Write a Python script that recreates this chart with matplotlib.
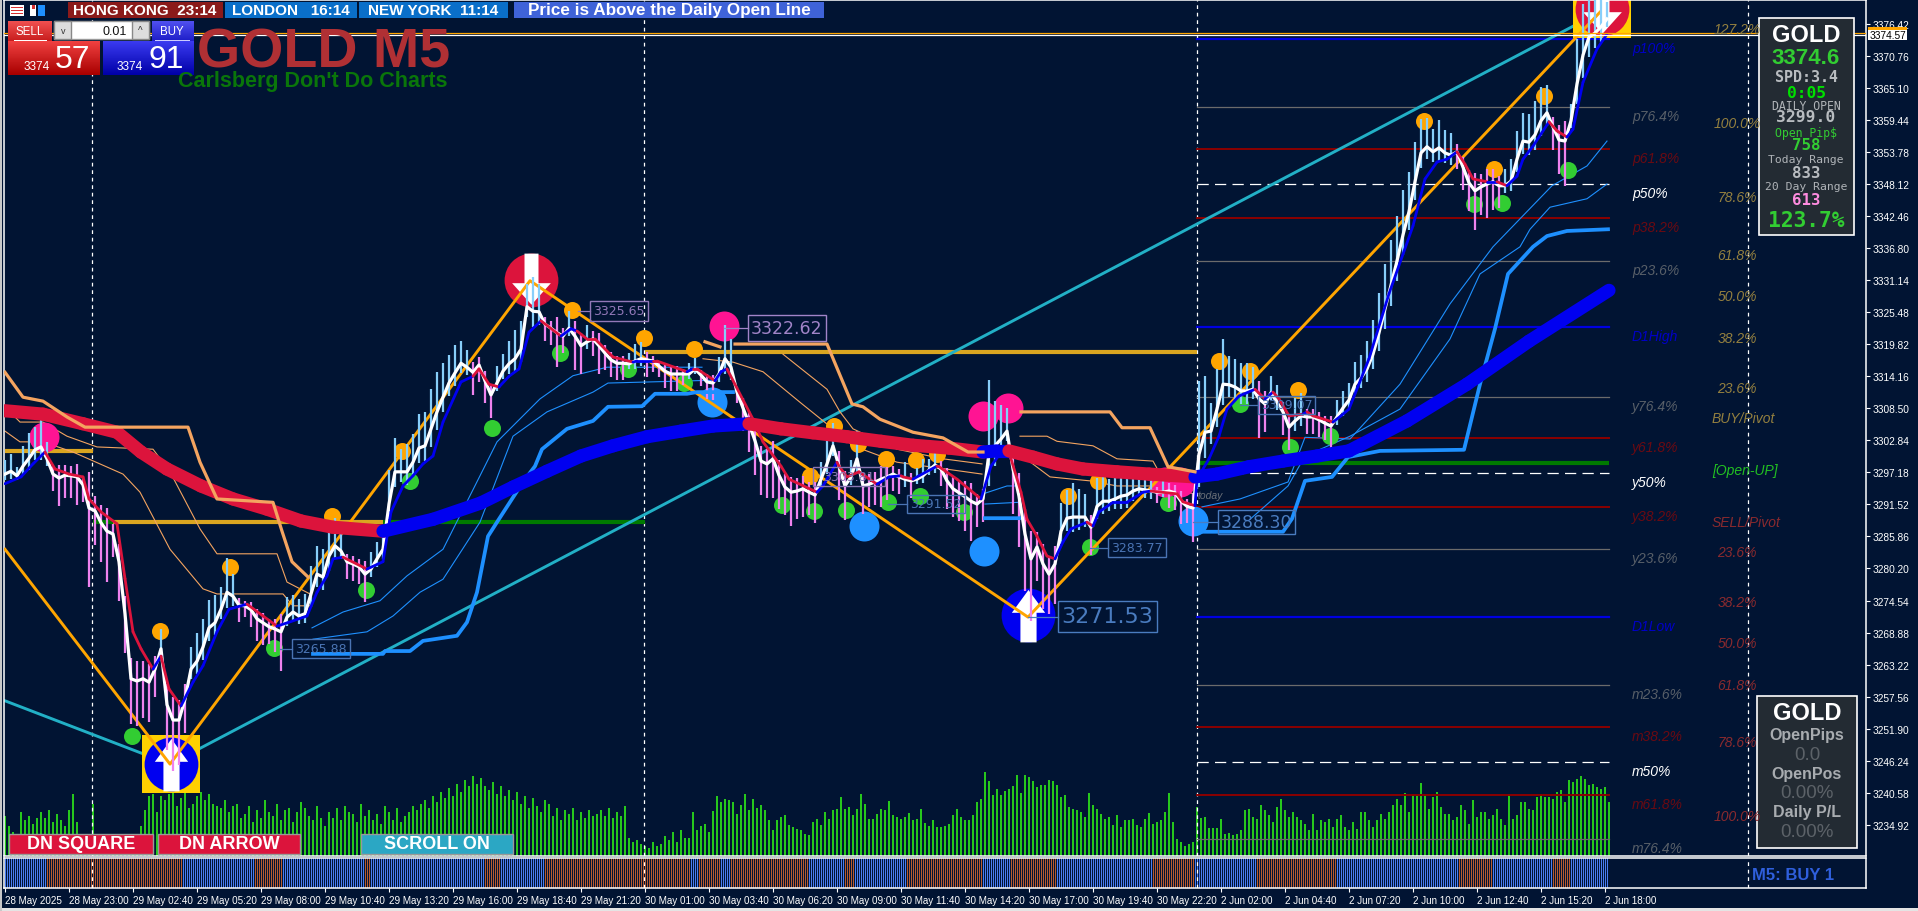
"""GOLD M5 - MT4 chart with the indicators and the side panels."""
import numpy as np
import matplotlib
matplotlib.use("Agg")
import matplotlib.pyplot as plt
from matplotlib.colors import LinearSegmentedColormap
from matplotlib.patches import Rectangle
from matplotlib.path import Path

NA = float("nan")
BG = "#011433"
W, H = 1918, 912

# ---- axis labels
price_ticks = [3376.42, 3370.76, 3365.10, 3359.44, 3353.78, 3348.12, 3342.46, 3336.80, 3331.14,
               3325.48, 3319.82, 3314.16, 3308.50, 3302.84, 3297.18, 3291.52, 3285.86, 3280.20,
               3274.54, 3268.88, 3263.22, 3257.56, 3251.90, 3246.24, 3240.58, 3234.92]
time_labels = ["28 May 2025", "28 May 23:00", "29 May 02:40", "29 May 05:20", "29 May 08:00",
               "29 May 10:40", "29 May 13:20", "29 May 16:00", "29 May 18:40", "29 May 21:20",
               "30 May 01:00", "30 May 03:40", "30 May 06:20", "30 May 09:00", "30 May 11:40",
               "30 May 14:20", "30 May 17:00", "30 May 19:40", "30 May 22:20", "2 Jun 02:00",
               "2 Jun 04:40", "2 Jun 07:20", "2 Jun 10:00", "2 Jun 12:40", "2 Jun 15:20", "2 Jun 18:00"]
day_breaks = [43.5, 319.5, 596, 871.5]

# ---- price, one value every 3 bars; wick > 0 goes up (blue), < 0 goes down (pink)
close = [3296.9, 3297.4, 3296.6, 3298.3, 3299.7, 3301.2, 3301.7, 3299.6, 3296.9, 3296.2,
         3296.7, 3296.6, 3296.4, 3295.0, 3290.9, 3290.4, 3288.3, 3286.8, 3286.3, 3281.4,
         3272.2, 3260.7, 3260.3, 3260.7, 3260.1, 3262.4, 3266.0, 3256.1, 3253.4, 3253.4,
         3257.1, 3262.4, 3263.8, 3266.3, 3269.7, 3270.6, 3273.0, 3276.0, 3275.3, 3273.7,
         3273.6, 3272.9, 3271.3, 3270.6, 3269.9, 3269.5, 3269.0, 3271.6, 3272.5, 3271.8,
         3272.2, 3275.7, 3279.2, 3278.7, 3282.4, 3284.2, 3283.3, 3281.4, 3281.0, 3280.5,
         3279.2, 3280.1, 3281.9, 3283.6, 3291.6, 3297.3, 3297.3, 3297.3, 3299.0, 3301.5,
         3301.9, 3304.9, 3307.9, 3310.5, 3313.0, 3314.8, 3316.5, 3315.8, 3314.9, 3316.2,
         3313.4, 3310.9, 3313.0, 3315.1, 3316.4, 3317.3, 3319.0, 3326.5, 3325.7, 3325.6,
         3323.4, 3322.7, 3321.9, 3321.3, 3322.7, 3321.3, 3319.6, 3320.3, 3320.8, 3319.6,
         3318.3, 3317.1, 3316.5, 3316.5, 3316.4, 3316.9, 3317.3, 3317.1, 3316.9, 3316.0,
         3315.1, 3314.6, 3314.6, 3314.6, 3314.6, 3315.5, 3314.4, 3313.2, 3313.0, 3314.6,
         3317.3, 3315.8, 3311.4, 3308.6, 3305.8, 3302.8, 3299.2, 3298.7, 3299.6, 3296.7,
         3294.6, 3293.7, 3293.9, 3294.3, 3293.7, 3293.2, 3296.0, 3298.7, 3301.9, 3298.3,
         3294.8, 3296.4, 3299.6, 3294.8, 3295.1, 3295.5, 3296.0, 3296.4, 3296.9, 3296.4,
         3296.0, 3295.7, 3296.0, 3296.6, 3297.6, 3298.5, 3297.8, 3295.7, 3294.3, 3293.6,
         3292.9, 3292.1, 3291.6, 3292.5, 3300.6, 3301.9, 3303.1, 3304.5, 3297.8, 3293.0,
         3286.3, 3281.9, 3284.0, 3281.0, 3279.2, 3281.0, 3286.8, 3289.1, 3289.3, 3289.3,
         3289.3, 3287.5, 3291.2, 3292.1, 3292.1, 3292.5, 3293.0, 3293.2, 3293.9, 3294.3,
         3294.1, 3293.9, 3293.7, 3293.7, 3293.9, 3293.6, 3292.1, 3291.2, 3290.9, 3300.4,
         3304.3, 3304.5, 3308.4, 3312.8, 3312.7, 3312.3, 3311.6, 3311.6, 3311.9, 3310.2,
         3309.3, 3311.3, 3309.6, 3307.9, 3305.2, 3306.3, 3307.2, 3307.0, 3307.0, 3306.5,
         3305.9, 3305.4, 3307.0, 3308.6, 3310.0, 3312.8, 3313.9, 3315.5, 3318.1, 3321.9,
         3326.1, 3330.3, 3334.6, 3339.2, 3343.3, 3348.6, 3353.7, 3354.8, 3353.9, 3354.6,
         3353.7, 3353.3, 3353.9, 3351.2, 3348.4, 3347.0, 3347.7, 3348.2, 3348.6, 3347.9,
         3347.9, 3348.7, 3352.6, 3355.8, 3355.6, 3356.9, 3359.4, 3360.8, 3358.3, 3356.0,
         3355.8, 3359.4, 3365.9, 3371.0, 3374.2, 3374.9, 3376.0, 3377.4]
wick = [2.5, 3, 1.5, 3.5, 4.5, 4, 5, 3, -3, -5,
        -4, -4, -5, -3, -14, -6, -7, -9, -4, -7,
        -7, -8, -8, -7, -7, -5, 3.5, -8, -9, -8,
        -6, 4, 5, 5, 5, 5, 4, 6, 4, -3,
        -2, -3, -4, -4, -3, -4, -7, 3.5, 3, 3,
        3.5, 5, 5, 5, 6, 5, 3, -3, -3, -3,
        -5, 3, 3, 4, 6, 6, 4, 5, 5, 6,
        6, 7, 7, 6, 5, 5, 4, 3, -4, -3,
        -4, -4, 3, 3, 4, 5, 5, 4, 6, 5,
        -3, -3, -6, -3, 3, -6, -5, 3, -3, -5,
        -3, -3, -3, -3, 2, 3, 3, -3, -2, -2,
        -3, -3, -3, -2, 2, 2, -2, -3, -3, 3,
        6, 5, -2, -4, -5, -6, -6, -6, -7, -6,
        -5, -6, -5, -5, -4, -5, 3, 4, 4, -6,
        -6, 3, 5, -5, -4, -4, -5, -4, -3, -3,
        3, -3, 2, 3, 2, 3, -3, -5, -5, -5,
        -6, -7, -4, -4, 13, 8, 6, 4, -8, -9,
        -10, -11, -6, -8, -7, -7, 5, 5, 6, 5,
        4, -5, 5, 5, 4, 4, 5, 5, 4, 3,
        3, 3, -2, 2, -3, -3, -4, -3, -6, 13,
        10, 5, 7, 8, 5, 5, 5, 5, 4, -7,
        -5, 3, 3, -4, -4, 4, 4, -3, -3, -3,
        -3, -4, 3, 3, 3, 4, 4, 5, 6, 7,
        8, 8, 8, 8, 7, 7, 6, 5, 4, 5,
        4, 4, -3, -4, -5, -7, -5, -6, -5, -4,
        3, 4, 5, 5, 5, 6, 6, 5, -4, -6,
        -8, 3, 8, 9, 8, 6, 6, 3]

# ---- fast average, colour flips at the bars in fast_flips (starts blue)
fast_bars = [0, 8, 14, 20, 25, 32, 39, 42, 48, 56, 60, 64, 68, 74, 78, 82, 88, 94, 99, 106, 112, 121, 129,
             136, 142, 151, 156, 161, 164, 169, 181, 189, 193, 199, 204, 209, 214, 219, 228, 234, 237,
             242, 247, 252, 257, 262, 268, 278, 283, 286, 291, 295, 304, 314, 316, 324, 326, 341, 344,
             346, 355, 358, 361, 374, 379, 388, 392, 406, 409, 416, 417, 421, 427, 436, 442, 448, 449,
             454, 457, 466, 467, 476, 488, 493, 500, 502, 508, 511, 516, 521, 525, 529, 533, 541, 544,
             547, 554, 561, 569, 573, 586, 589, 595, 596, 602, 607, 611, 617, 625, 630, 634, 637, 642,
             649, 651, 654, 664, 668, 672, 682, 692, 704, 710, 716, 721, 726, 730, 734, 741, 746, 751,
             756, 759, 764, 772, 776, 781, 784, 789, 796, 801]
fast_vals = [3295.2, 3296.4, 3298.7, 3300.8, 3297.8, 3296.9, 3296.4, 3292.5, 3290.2, 3288.1, 3278.4, 3269.0,
             3266.0, 3262.4, 3264.7, 3258.9, 3255.9, 3260.1, 3263.0, 3269.0, 3273.0, 3273.9, 3271.8,
             3270.0, 3270.7, 3271.8, 3276.0, 3278.9, 3281.9, 3282.2, 3280.1, 3281.4, 3290.2, 3294.8,
             3296.6, 3298.7, 3300.1, 3306.1, 3313.2, 3314.2, 3315.5, 3312.8, 3312.3, 3314.2, 3315.5,
             3322.0, 3324.0, 3321.3, 3322.6, 3322.2, 3320.8, 3320.8, 3317.6, 3316.7, 3316.9, 3316.9,
             3316.9, 3315.0, 3315.5, 3315.5, 3313.4, 3315.0, 3315.5, 3306.6, 3302.6, 3298.3, 3296.0,
             3293.7, 3294.8, 3299.0, 3298.3, 3296.4, 3297.3, 3295.1, 3296.4, 3296.6, 3296.4, 3296.0,
             3296.6, 3298.3, 3298.2, 3296.0, 3292.5, 3298.3, 3301.7, 3300.8, 3293.7, 3288.9, 3285.9,
             3282.4, 3281.9, 3284.9, 3287.2, 3288.4, 3287.7, 3290.2, 3291.9, 3291.9, 3293.7, 3293.9,
             3293.4, 3292.0, 3291.3, 3296.0, 3299.6, 3303.6, 3308.4, 3310.7, 3311.9, 3310.2, 3311.4,
             3310.2, 3307.2, 3307.5, 3307.9, 3307.2, 3306.1, 3307.2, 3308.4, 3317.3, 3328.8, 3340.8,
             3349.1, 3352.1, 3352.6, 3353.9, 3351.7, 3349.1, 3348.6, 3348.6, 3347.9, 3349.6, 3352.6,
             3354.9, 3359.2, 3357.6, 3356.5, 3357.9, 3366.2, 3372.1, 3374.7]
fast_flips = [20, 74, 78, 88, 121, 136, 169, 181, 234, 247, 268, 278, 286, 314, 324, 341, 344, 355, 361,
              406, 416, 436, 448, 454, 466, 488, 500, 525, 541, 544, 573, 595, 625, 630, 634, 649, 651,
              664, 726, 741, 746, 751, 772, 781]

# ---- slow average, starts red
slow_bars = [0, 19, 39, 56, 68, 81, 98, 114, 131, 148, 164, 189, 214, 238, 254, 271, 288, 304, 321, 338,
             354, 372, 388, 404, 421, 438, 454, 472, 489, 496, 502, 514, 526, 539, 556, 572, 595, 606,
             622, 639, 656, 672, 701, 731, 762, 802]
slow_vals = [3308.1, 3307.5, 3305.8, 3304.3, 3300.8, 3297.8, 3294.8, 3292.5, 3290.7, 3288.6, 3287.5, 3286.8,
             3288.9, 3291.8, 3294.6, 3297.4, 3300.1, 3301.9, 3303.5, 3304.5, 3305.4, 3305.8, 3304.9,
             3304.2, 3303.5, 3302.7, 3302.0, 3301.5, 3300.8, 3301.0, 3301.0, 3299.9, 3298.7, 3297.8,
             3297.3, 3296.9, 3296.4, 3296.9, 3298.2, 3299.2, 3300.1, 3301.0, 3306.3, 3312.8, 3320.4, 3329.4]
slow_flips = [189, 372, 489, 502, 595]

# ---- trailing lines, NA breaks the line
peach_bars = [0, 9, 19, 31, 40, 91.5, 97.5, 106, 134, 138.5, 143.5, 151.5, NA, 350, 357.5, NA, 365, 411, 423.5,
              429, 437.5, 454, 469, 481.5, 489, NA, 508, 552.5, 558.5, 572.5, 581.5, 595]
peach_vals = [3314.9, 3310.5, 3309.8, 3307.0, 3305.2, 3305.2, 3299.0, 3292.5, 3291.9, 3286.8, 3281.4, 3278.7, NA,
              3320.3, 3319.4, NA, 3319.9, 3319.9, 3309.3, 3308.8, 3306.6, 3304.3, 3303.3, 3300.8, 3300.8, NA,
              3307.9, 3307.9, 3305.1, 3305.1, 3298.2, 3297.3]
band_a_bars = [0, 7.5, 19, 31, 46, 74, 82.5, 97.5, 106, 136, 141, 152.5, NA, 389, 411, 417.5, 424, 446, 469, 488.5,
               NA, 507.5, 521, 526, 544, 556, 574, 579, 595]
band_a_vals = [3308.8, 3306.1, 3306.1, 3303.6, 3301.7, 3301.3, 3297.3, 3287.2, 3282.8, 3282.8, 3277.8, 3275.7, NA,
               3318.1, 3311.9, 3307.9, 3304.9, 3301.3, 3299.6, 3298.7, NA, 3303.6, 3303.6, 3302.7, 3301.9,
               3299.6, 3299.2, 3296.0, 3295.1]
band_b_bars = [0, 7.5, 19, 34, 59, 67.5, 82.5, 99, 106, 139, 144, 152.5, NA, 349, 364, 379, 397.5, 414, 424, 446,
               488.5, NA, 507.5, 522.5, 542.5, 556, 574, 595]
band_b_vals = [3304.5, 3302.6, 3302.6, 3300.8, 3296.9, 3293.7, 3283.6, 3276.6, 3275.7, 3275.7, 3273.6, 3273.6, NA,
               3317.3, 3316.7, 3315.0, 3309.6, 3304.9, 3301.9, 3299.0, 3296.9, NA, 3300.4, 3296.4, 3295.7,
               3294.8, 3294.8, 3293.4]
thin_a_bars = [153.5, 169, 187.5, 201, 219, 237.5, 246, 267.5, 284, 301, 348.5, NA, 489, 501, 506.5, NA, 598.5,
               617.5, 641.5, 650, 672.5, 697.5, 722.5, 744, 756, 773.5, 791, 801]
thin_a_vals = [3269.7, 3272.5, 3274.5, 3278.9, 3283.6, 3296.6, 3302.6, 3310.2, 3314.3, 3315.8, 3315.8, NA, 3293.4,
               3294.8, 3294.8, NA, 3291.1, 3292.5, 3295.5, 3303.4, 3303.1, 3312.8, 3327.0, 3337.1, 3341.5,
               3347.9, 3351.4, 3355.8]
thin_b_bars = [154, 181, 194, 207.5, 219, 237.5, 254, 271, 294, 301.5, 354, NA, 490, 506.5, NA, 622.5, 641.5, 650,
               672.5, 697.5, 722.5, 737.5, 757.5, 762.5, 772.5, 791, 801]
thin_b_vals = [3267.7, 3269.0, 3271.8, 3276.0, 3278.3, 3288.4, 3303.6, 3307.9, 3311.4, 3313.0, 3313.5, NA, 3291.6,
               3291.9, NA, 3288.9, 3294.8, 3300.1, 3303.6, 3308.4, 3320.8, 3332.3, 3337.1, 3340.2, 3344.1,
               3345.6, 3348.2]
stop_bars = [154, 189, 190, 202.5, 209, 226, 231, 236, 241.5, 246, 259, 265, 268.5, 281, 294, 301.5, 318.5, 325,
             341, 346, 364, NA, 490, 507, NA, 596, 639, 643.5, 650, 663.5, 671.5, 687.5, 729.5, 737.5, 745,
             751.5, 764, 771, 781, 801.5]
stop_vals = [3265.1, 3265.1, 3265.6, 3265.6, 3267.4, 3268.3, 3270.7, 3276.0, 3285.9, 3288.4, 3295.5, 3298.3,
             3301.3, 3304.9, 3306.3, 3308.8, 3308.9, 3311.1, 3311.1, 3311.4, 3311.4, NA, 3289.1, 3289.1, NA,
             3286.7, 3286.7, 3289.0, 3295.7, 3296.4, 3299.9, 3301.0, 3301.2, 3312.8, 3322.6, 3332.3, 3337.1,
             3339.0, 3339.9, 3340.2]

zigzag_bars = [0, 82.5, 262.5, 511.5, 797.5]
zigzag_vals = [3283.6, 3245.6, 3331.1, 3271.6, 3378.6]
channel_bars = [0, 82.5, 798.5]
channel_vals = [3256.8, 3245.6, 3378.8]

# ---- swing dots
orange_bars = [112.5, 77.5, 163.5, 198.5, 283.5, 319.5, 344.5, 414.5, 426.5, 402.5, 440.5, 455.5, 466, 531.5,
               546.5, 607, 622.5, 646.5, 709.5, 744.5, 769.5]
orange_vals = [3280.5, 3269.2, 3289.5, 3301.0, 3325.9, 3321.0, 3319.0, 3305.4, 3302.2, 3296.6, 3299.6, 3299.4,
               3300.5, 3293.0, 3295.7, 3316.9, 3315.1, 3311.8, 3359.4, 3350.9, 3363.8]
green_bars = [63.5, 134.5, 180.5, 202.5, 243.5, 277.5, 311.5, 339.5, 388.5, 404.5, 420.5, 441.5, 457.5, 479.5,
              542.5, 581.5, 617.5, 642.5, 662.5, 734.5, 748.5, 781.5]
green_vals = [3250.6, 3266.1, 3276.4, 3295.7, 3305.0, 3318.3, 3315.5, 3313.0, 3291.4, 3290.4, 3290.6, 3291.9,
              3293.0, 3290.2, 3284.0, 3291.8, 3309.3, 3301.7, 3303.6, 3344.7, 3344.8, 3350.7]
pink_bars = [19.5, 359.5, 489, 501.5, 580, 587.5]
pink_vals = [3303.5, 3323.1, 3307.2, 3308.6, 3295.5, 3295.5]
blue_bars = [353.5, 429.5, 489.5, 594]
blue_vals = [3309.6, 3287.7, 3283.3, 3288.6]
sell_bars = [263, 798.5]
sell_vals = [3331.2, 3379.2]
buy_bars = [83, 511.5]
buy_vals = [3245.6, 3272.0]
square_bars = [83, 798.5]
square_vals = [3245.6, 3379.2]

# ---- pivot levels from bar 596 onwards
level_names = ["p100%", "p76.4%", "p61.8%", "p50%", "p38.2%", "p23.6%", "D1High", "y76.4%", "y61.8%", "y50%",
               "y38.2%", "y23.6%", "D1Low", "m23.6%", "m38.2%", "m50%", "m61.8%", "m76.4%"]
level_vals = [3373.9, 3361.8, 3354.4, 3348.2, 3342.2, 3334.6, 3322.9, 3310.5, 3303.3, 3297.1, 3291.1, 3283.6,
              3271.6, 3259.6, 3252.2, 3246.0, 3240.1, 3232.4]
level_kinds = ["b", "g", "r", "w", "r", "g", "b", "g", "r", "w", "r", "g", "b", "g", "r", "w", "r", "g"]

day_open_starts = [0, 54, 320, 44, 189, 596]
day_open_ends = [44, 189, 596, 54, 320, 802]
day_open_vals = [3301.0, 3288.4, 3318.5, 3288.4, 3288.4, 3298.9]
day_open_cols = ["#daa520", "#daa520", "#daa520", "#007a00", "#007a00", "#007a00"]
bid, ask = 3374.57, 3374.91

# ---- volume, one value every 2 bars
volume = [40, 30, 24, 22, 44, 36, 40, 32, 38, 44, 38, 46, 34, 42, 36, 30, 46, 62, 34, 10,
          14, 8, 52, 20, 6, 8, 10, 8, 12, 8, 6, 10, 8, 14, 30, 46, 60, 62, 44, 60,
          56, 62, 64, 50, 58, 64, 48, 52, 60, 64, 56, 62, 52, 50, 48, 56, 44, 50, 52, 38,
          42, 50, 34, 46, 38, 56, 44, 40, 52, 36, 46, 48, 34, 44, 54, 48, 40, 36, 50, 38,
          30, 44, 38, 48, 36, 50, 44, 42, 34, 52, 40, 46, 36, 42, 32, 50, 44, 36, 48, 34,
          40, 44, 50, 46, 52, 56, 48, 60, 54, 64, 58, 68, 60, 72, 64, 76, 70, 80, 72, 78,
          70, 66, 74, 62, 70, 60, 66, 56, 64, 52, 60, 48, 58, 50, 44, 56, 52, 40, 48, 36,
          46, 42, 48, 36, 44, 38, 46, 40, 42, 46, 40, 48, 38, 44, 40, 50, 18, 14, 16, 12,
          10, 8, 14, 10, 12, 20, 16, 24, 14,
          26, 18, 18, 44, 26, 30, 32, 24, 45, 60, 54, 57, 56, 54, 42, 51, 62, 46, 57, 48,
          51, 46, 36, 26, 36, 39, 41, 31, 29, 27, 26, 22, 21, 34, 37, 31, 44, 37, 46, 47,
          59, 47, 49, 41, 47, 62, 52, 37, 37, 42, 47, 46, 55, 41, 39, 37, 39, 43, 36, 37,
          47, 33, 30, 36, 29, 29, 30, 32, 41, 47, 39, 36, 36, 41, 54, 57, 84, 75, 61, 67,
          61, 65, 67, 70, 81, 63, 81, 79, 75, 69, 71, 71, 76, 75, 71, 59, 61, 49, 47, 46,
          44, 39, 63, 51, 47, 42, 37, 39, 31, 41, 29, 36, 36, 37, 31, 29, 37, 43, 32, 34,
          36, 44, 63, 34, 17, 14, 10, 12, 14, 49, 38, 39, 28, 28, 28, 37, 22, 23, 21, 22,
          26, 46, 47, 39, 37, 51, 46, 41, 34, 49, 57, 46, 39, 44, 39, 36, 32, 26, 42, 26,
          36, 34, 37, 29, 37, 41, 29, 26, 34, 27, 44, 44, 36, 29, 36, 42, 37, 44, 51, 57,
          51, 63, 44, 61, 61, 73, 61, 47, 59, 64, 49, 42, 42, 36, 39, 51, 46, 32, 56, 39,
          44, 44, 37, 41, 47, 37, 31, 62, 37, 41, 54, 54, 47, 46, 59, 62, 59, 59, 57, 64,
          66, 54, 76, 74, 77, 80, 77, 71, 72, 69, 67, 69, 54]

# ---- M5 signal strip, alternating blue / brown up to these bars
regime_ends = [21, 89, 125, 139, 180, 183, 240, 248, 270, 343, 347, 358, 363, 402, 420, 425, 451, 489, 503, 526,
               574, 595, 626, 666, 727, 744, 774, 783, 802]


def px_axes(x0, y0, x1, y1):
    return fig.add_axes([x0 / W, 1 - y1 / H, (x1 - x0) / W, (y1 - y0) / H])


fig = plt.figure(figsize=(W / 100, H / 100), dpi=100, facecolor=BG)
plt.rcParams["font.family"] = ["Liberation Sans", "DejaVu Sans"]

# volume sits in its own scale below the price panel
axv = px_axes(4, 1, 1866, 857)
axv.set_facecolor(BG)
axv.set_xlim(-0.5, 930.5)
axv.set_ylim(0, 856)
axv.axis("off")
axv.set_zorder(1)
axv.bar(np.arange(len(volume)) * 2, volume, width=1.4, color="#27c71d", align="center")

ax = px_axes(4, 1, 1866, 857)
ax.set_zorder(2)
ax.patch.set_alpha(0)
ax.set_xlim(-0.5, 930.5)
ax.set_ylim(3229.35, 3380.75)
for s in ax.spines.values():
    s.set_color("white")
    s.set_linewidth(1.1)
ax.set_xticks([])
ax.yaxis.tick_right()
ax.set_yticks(price_ticks, [f"{v:.2f}" for v in price_ticks])
ax.tick_params(axis="y", colors="white", length=3, width=0.8, pad=1.5, labelsize=7.3)

for x in day_breaks:
    ax.axvline(x, color="white", lw=0.9, ls=(0, (3, 3)), zorder=1)

# pivot levels
level_style = {"b": ("#0000e0", 1.6, "-", "#0000c8"), "g": ("#6b6b6b", 0.9, "-", "#585f68"),
               "r": ("#8b0000", 1.4, "-", "#6a0a12"), "w": ("white", 0.9, (0, (9, 5)), "white")}
for name, val, kind in zip(level_names, level_vals, level_kinds):
    col, lw, ls, tcol = level_style[kind]
    ax.plot([596, 802], [val, val], color=col, lw=lw, ls=ls, zorder=1.5)
    ax.annotate(name, (813.5, val), xytext=(0, -6.5), textcoords="offset points", color=tcol,
                fontsize=10, style="italic", va="center", ha="left", annotation_clip=False)

for a, b, v, c in zip(day_open_starts, day_open_ends, day_open_vals, day_open_cols):
    ax.plot([a, b], [v, v], color=c, lw=3, solid_capstyle="butt", zorder=1.6)
ax.axhline(ask, color="#ffa500", lw=0.9, zorder=12)
ax.axhline(bid, color="white", lw=0.9, zorder=12)

ax.plot(channel_bars, channel_vals, color="#22b0c6", lw=2.1, zorder=1.8)
ax.plot(band_a_bars, band_a_vals, color="#f4a460", lw=0.8, zorder=2)
ax.plot(band_b_bars, band_b_vals, color="#f4a460", lw=0.8, zorder=2)
ax.plot(thin_a_bars, thin_a_vals, color="#1e90ff", lw=0.8, zorder=2)
ax.plot(thin_b_bars, thin_b_vals, color="#1e90ff", lw=0.8, zorder=2)

# big arrows
ARROW_DOWN = Path([(-0.26, 1), (0.26, 1), (0.26, -0.1), (0.72, -0.1), (0, -0.9), (-0.72, -0.1), (-0.26, -0.1),
                   (-0.26, 1)], closed=True)
ARROW_UP = Path([(-0.3, -1), (0.3, -1), (0.3, 0.1), (0.62, 0.1), (0, 0.95), (-0.62, 0.1), (-0.3, 0.1),
                 (-0.3, -1)], closed=True)
ax.scatter(square_bars, square_vals, marker="s", s=1750, color="#ffd000", zorder=2.1, linewidths=0)
ax.scatter(sell_bars, sell_vals, s=1500, color="#dc143c", zorder=2.2, linewidths=0)
ax.scatter(buy_bars, buy_vals, s=1500, color="#0000f0", zorder=2.2, linewidths=0)
ax.scatter(sell_bars, sell_vals, marker=ARROW_DOWN, s=1500, color="white", zorder=2.3, linewidths=0)
ax.scatter(buy_bars, buy_vals, marker=ARROW_UP, s=1500, color="white", zorder=2.3, linewidths=0)

ax.scatter(orange_bars, orange_vals, s=150, color="#ffa500", zorder=3, linewidths=0)
ax.scatter(green_bars, green_vals, s=150, color="#32cd32", zorder=3, linewidths=0)
ax.scatter(pink_bars, pink_vals, s=467, color="#ff1493", zorder=3, linewidths=0)
ax.scatter(blue_bars, blue_vals, s=467, color="#1e90ff", zorder=3, linewidths=0)

ax.plot(zigzag_bars, zigzag_vals, color="#ffa500", lw=2.1, zorder=3.5)

# bar range + close
c = np.array(close)
k = np.array(wick)
bars = np.arange(len(c)) * 3
ax.vlines(bars, c - 0.45 * k, c + k, colors=np.where(k > 0, "#87cefa", "#ee82ee"), lw=1.6, zorder=4)
ax.plot(bars, c, color="white", lw=2.3, zorder=5, solid_joinstyle="round")

# two-colour averages
for i in range(1, len(fast_bars)):
    n = sum(f <= fast_bars[i - 1] for f in fast_flips)
    ax.plot(fast_bars[i - 1:i + 1], fast_vals[i - 1:i + 1], color="#dc143c" if n % 2 else "#0000f0", lw=2,
            zorder=6, solid_capstyle="round")
ax.plot(stop_bars, stop_vals, color="#1e90ff", lw=2.7, zorder=6.5)
for i in range(1, len(slow_bars)):
    n = sum(f <= slow_bars[i - 1] for f in slow_flips)
    ax.plot(slow_bars[i - 1:i + 1], slow_vals[i - 1:i + 1], color="#0000f0" if n % 2 else "#dc143c", lw=9.5,
            zorder=7, solid_capstyle="round")
ax.plot(peach_bars, peach_vals, color="#f4a460", lw=2.3, zorder=8)

# signal strip
axs = px_axes(4, 859, 1866, 889)
axs.set_facecolor(BG)
axs.set_xlim(-0.5, 930.5)
axs.set_ylim(0, 1)
for s in axs.spines.values():
    s.set_color("white")
    s.set_linewidth(1.1)
strip_bars = np.arange(regime_ends[-1])
strip_cols = np.where(np.searchsorted(regime_ends, strip_bars, side="right") % 2, "#b85a30", "#4a7cf0")
axs.bar(strip_bars, np.ones(len(strip_bars)), width=0.62, color=strip_cols, align="edge")
for x in day_breaks:
    axs.axvline(x, color="white", lw=0.9, ls=(0, (3, 3)))
axs.set_yticks([])
axs.set_xticks(np.arange(len(time_labels)) * 32, time_labels, ha="left")
axs.tick_params(axis="x", colors="white", length=3, width=0.8, pad=2, labelsize=7.1)

# ---- everything that is screen furniture, in pixels
ui = fig.add_axes([0, 0, 1, 1])
ui.set_zorder(5)
ui.patch.set_alpha(0)
ui.axis("off")


def box(x0, y0, x1, y1, fc="none", ec="none", lw=1, z=1):
    ui.add_patch(Rectangle((x0, y0), x1 - x0, y1 - y0, fc=fc, ec=ec, lw=lw, zorder=z))


def txt(x, y, s, size, color="white", ha="center", z=5, **kw):
    ui.text(x, y, s, fontsize=size, color=color, ha=ha, va="center", zorder=z, **kw)


def grad(x0, y0, x1, y1, top, bottom):
    cm = LinearSegmentedColormap.from_list("g", [top, bottom])
    ui.imshow(np.linspace(0, 1, 32)[:, None], extent=[x0, x1, y1, y0], cmap=cm, aspect="auto", zorder=2)


# title
txt(324, 53, "GOLD M5", 40, "#b03034", weight="bold")
txt(313, 82, "Carlsberg Don't Do Charts", 15.5, "#0a760a", weight="bold")

# clocks
box(68, 3, 223, 19, "#8b1a1a")
box(225, 3, 357, 19, "#0a6fc9")
box(359, 3, 508, 19, "#0a6fc9")
box(514, 3, 824, 19, "#3f63d8")
txt(145, 11, "HONG KONG  23:14", 11, weight="bold")
txt(291, 11, "LONDON   16:14", 11, weight="bold")
txt(433, 11, "NEW YORK  11:14", 11, weight="bold")
txt(669, 11, "Price is Above the Daily Open Line", 12.3, weight="bold")

# window icons
box(10, 6, 24, 17, "white", z=2)
for y in (8, 11, 14):
    box(11, y, 23, y + 1.2, "#d83030", z=3)
box(30, 6, 36, 17, "white", z=2)
box(38, 6, 45, 17, "#1e90ff", z=2)
box(32, 6, 35, 10, "#d83030", z=3)

# one click panel
grad(8, 22, 52, 42, "#f05050", "#c81e1e")
grad(152, 22, 194, 42, "#5050f0", "#1e1ec8")
grad(8, 42, 100, 76, "#f04040", "#a80000")
grad(103, 42, 194, 76, "#3a3af0", "#0000a8")
box(54, 22, 149, 40, "white", "#999999", z=2)
box(54, 22, 71, 40, "#dddddd", "#888888", z=3)
box(132, 22, 149, 40, "#dddddd", "#888888", z=3)
box(14, 41, 47, 42, "white", z=3)
box(155, 41, 190, 42, "#ccccff", z=3)
txt(30, 32, "SELL", 8.3)
txt(172, 32, "BUY", 8.3)
txt(63, 31, "v", 6.5, "#333333")
txt(140, 31, "^", 7, "#333333")
txt(127, 32, "0.01", 9, "#111111", ha="right")
txt(24, 67, "3374", 8.5, ha="left")
txt(72, 60, "57", 23)
txt(117, 67, "3374", 8.5, ha="left")
txt(166, 60, "91", 23)

# fib labels
fib_gold = "#94803f"
fib_red = "#8a2a2e"
for y, s, col in [(30, "127.2%", fib_gold), (124, "100.0%", fib_gold), (198, "78.6%", fib_gold),
                  (256, "61.8%", fib_gold), (297, "50.0%", fib_gold), (339, "38.2%", fib_gold),
                  (389, "23.6%", fib_gold), (553, "23.6%", fib_red), (603, "38.2%", fib_red),
                  (644, "50.0%", fib_red), (686, "61.8%", fib_red), (743, "78.6%", fib_red),
                  (817, "100.0%", fib_red)]:
    txt(1737, y, s, 10, col, style="italic")
txt(1712, 419, "BUY/Pivot", 10, fib_gold, ha="left", style="italic")
txt(1712, 471, "[Open-UP]", 10, "#22c022", ha="left", style="italic")
txt(1712, 523, "SELL/Pivot", 10, fib_red, ha="left", style="italic")

# swing price tags
for x0, y0, x1, y1, s, size, col, lx0, lx1 in [
        (292, 640, 350, 659, "3265.88", 9, "#4a74b4", 280, 292),
        (590, 302, 648, 322, "3325.65", 9, "#9278b8", 578, 590),
        (748, 316, 826, 342, "3322.62", 12.5, "#a184c8", 724, 748),
        (813, 468, 885, 487, "3303.81", 9, "#8a76b4", 813, 813),
        (907, 496, 965, 514, "3291.52", 9, "#4a74b4", 888, 907),
        (1108, 539, 1166, 558, "3283.77", 9, "#4a74b4", 1090, 1108),
        (1058, 602, 1157, 633, "3271.53", 16, "#4a7cc0", 1028, 1058),
        (1218, 511, 1295, 535, "3288.30", 12.5, "#4a7cc0", 1193, 1218),
        (1258, 397, 1315, 415, "3309.07", 9, "#4a74b4", 1240, 1258)]:
    box(x0, y0, x1, y1, ec=col, lw=1, z=4)
    ui.plot([lx0, lx1], [(y0 + y1) / 2] * 2, color=col, lw=0.9, zorder=4)
    txt((x0 + x1) / 2, (y0 + y1) / 2, s, size, col, family="DejaVu Sans")
txt(1198, 496, "today", 7.5, "#6a7078", ha="left", style="italic")

# market panel
box(1759, 19, 1854, 236, "#232b33", "white", 1.2, z=3)
mono = "DejaVu Sans Mono"
txt(1806, 35, "GOLD", 17, weight="bold")
txt(1806, 58, "3374.6", 16, "#32cd32", weight="bold")
txt(1806, 78, "SPD:3.4", 10.8, "#b8bcc0", family=mono, weight="bold")
txt(1806, 93, "0:05", 11.7, "#00e000", family=mono, weight="bold")
txt(1806, 106, "DAILY OPEN", 8.3, "#b0b4b8", family=mono)
txt(1806, 118, "3299.0", 11.8, "#b8bcc0", family=mono, weight="bold")
txt(1806, 133, "Open Pip$", 8.3, "#32cd32", family=mono)
txt(1806, 146, "758", 11.3, "#32cd32", family=mono, weight="bold")
txt(1806, 160, "Today Range", 8.2, "#b0b4b8", family=mono)
txt(1806, 174, "833", 11.3, "#b8bcc0", family=mono, weight="bold")
txt(1806, 187, "20 Day Range", 8.2, "#b0b4b8", family=mono)
txt(1806, 201, "613", 11.3, "#ff8ce0", family=mono, weight="bold")
txt(1806, 221, "123.7%", 15.3, "#32cd32", family=mono, weight="bold")

# account panel
box(1757, 697, 1857, 849, "#232b33", "white", 1.2, z=3)
txt(1807, 714, "GOLD", 17, weight="bold")
for y, s in [(736, "OpenPips"), (775, "OpenPos"), (813, "Daily P/L")]:
    txt(1807, y, s, 11.5, "#a8acb0", weight="bold")
for y, s in [(756, "0.0"), (794, "0.00%"), (833, "0.00%")]:
    txt(1807, y, s, 13.5, "#5c6268")

txt(1752, 876, "M5: BUY 1", 12, "#2f5fdc", ha="left", weight="bold")

# buttons
for x0, x1, s, col in [(9, 153, "DN SQUARE", "#dc143c"), (158, 300, "DN ARROW", "#dc143c"),
                       (361, 513, "SCROLL ON", "#2ba7c4")]:
    box(x0, 835, x1, 855, col, "#999999", 1, z=3)
    txt((x0 + x1) / 2, 845, s, 13, weight="bold")

# current price tag
box(1868, 28, 1907, 31, "#ffa500", z=3)
box(1868, 31, 1907, 41, "white", z=3)
txt(1887.5, 36, f"{bid:.2f}", 7.3, "black")

# window edges
box(0, 909.5, W, H, "#e4e4e4", z=3)
box(0, 0, 1.5, H, "#c8c8c8", z=3)

ui.set_xlim(0, W)
ui.set_ylim(H, 0)

fig.savefig("out.png", dpi=100, facecolor=BG)
